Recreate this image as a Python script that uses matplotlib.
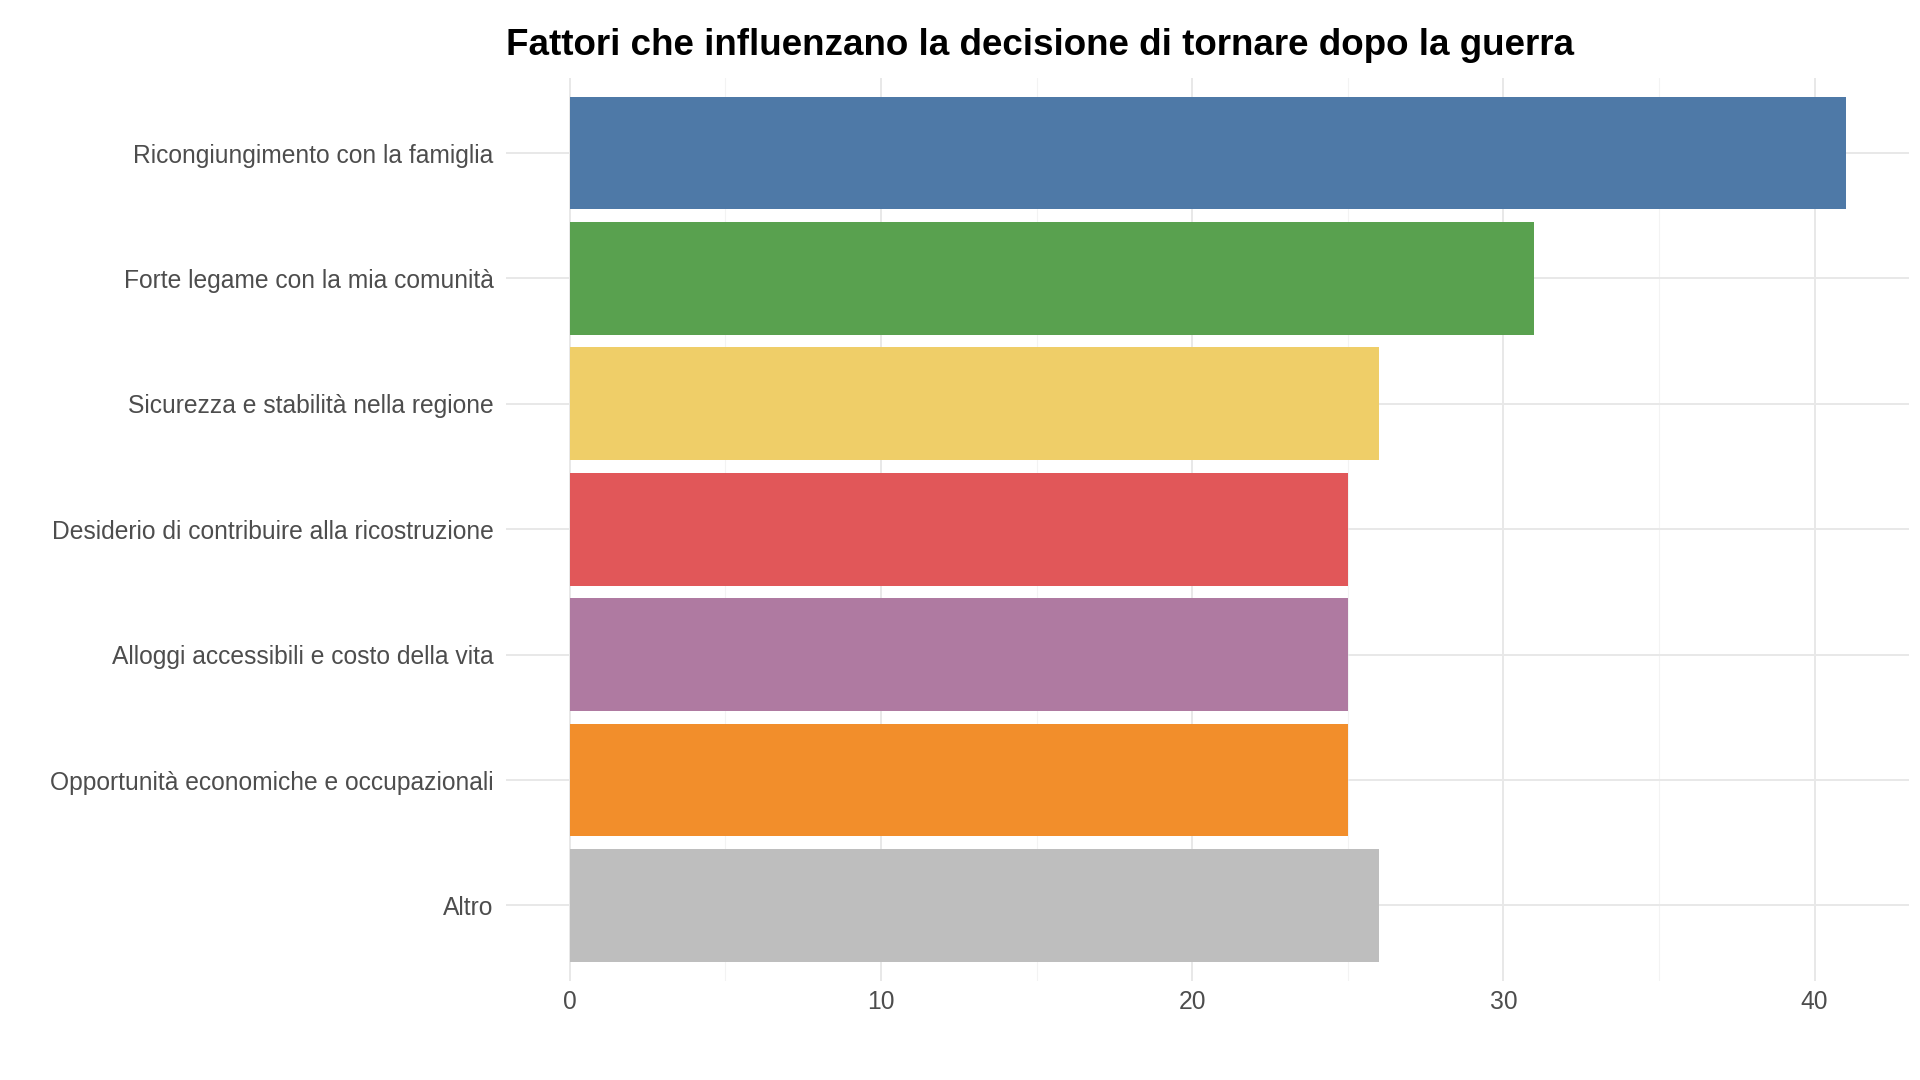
import matplotlib
matplotlib.use("Agg")
import matplotlib.pyplot as plt
from matplotlib.ticker import MultipleLocator

plt.rcParams['font.family'] = ['Liberation Sans', 'DejaVu Sans']

# dati
categorie = ["Ricongiungimento con la famiglia",
             "Forte legame con la mia comunità",
             "Sicurezza e stabilità nella regione",
             "Desiderio di contribuire alla ricostruzione",
             "Alloggi accessibili e costo della vita",
             "Opportunità economiche e occupazionali",
             "Altro"]
valori = [41, 31, 26, 25, 25, 25, 26]
colori = ["#4E79A7", "#59A14F", "#EFCE68", "#E15759",
          "#AF7AA1", "#F28E2B", "#BEBEBE"]

fig = plt.figure(figsize=(19.2, 10.8), dpi=100)
ax = fig.add_axes([0.2635, 0.092, 0.731, 0.836])

pos = list(range(len(categorie)))
ax.barh(pos, valori, height=0.9, color=colori, zorder=2)

ax.set_ylim(len(categorie) - 0.4, -0.6)
ax.set_xlim(-0.05 * max(valori), max(valori) * 1.05)
ax.set_yticks(pos)
ax.set_yticklabels(categorie)
ax.xaxis.set_major_locator(MultipleLocator(10))
ax.xaxis.set_minor_locator(MultipleLocator(5))

ax.grid(axis='x', which='major', color='#E8E8E8', lw=1.4, zorder=0)
ax.grid(axis='x', which='minor', color='#F3F3F3', lw=0.8, zorder=0)
ax.grid(axis='y', which='major', color='#E8E8E8', lw=1.4, zorder=0)

for s in ax.spines.values():
    s.set_visible(False)
ax.tick_params(axis='both', which='both', length=0, colors='#4D4D4D',
               labelsize=17.7)
ax.tick_params(axis='y', pad=9)
ax.tick_params(axis='x', pad=7)

fig.text(ax.get_position().x0, 0.958,
         "Fattori che influenzano la decisione di tornare dopo la guerra",
         fontsize=26.5, fontweight='bold', ha='left', va='center', color='black')

fig.savefig("out.png", dpi=100, facecolor='white')
